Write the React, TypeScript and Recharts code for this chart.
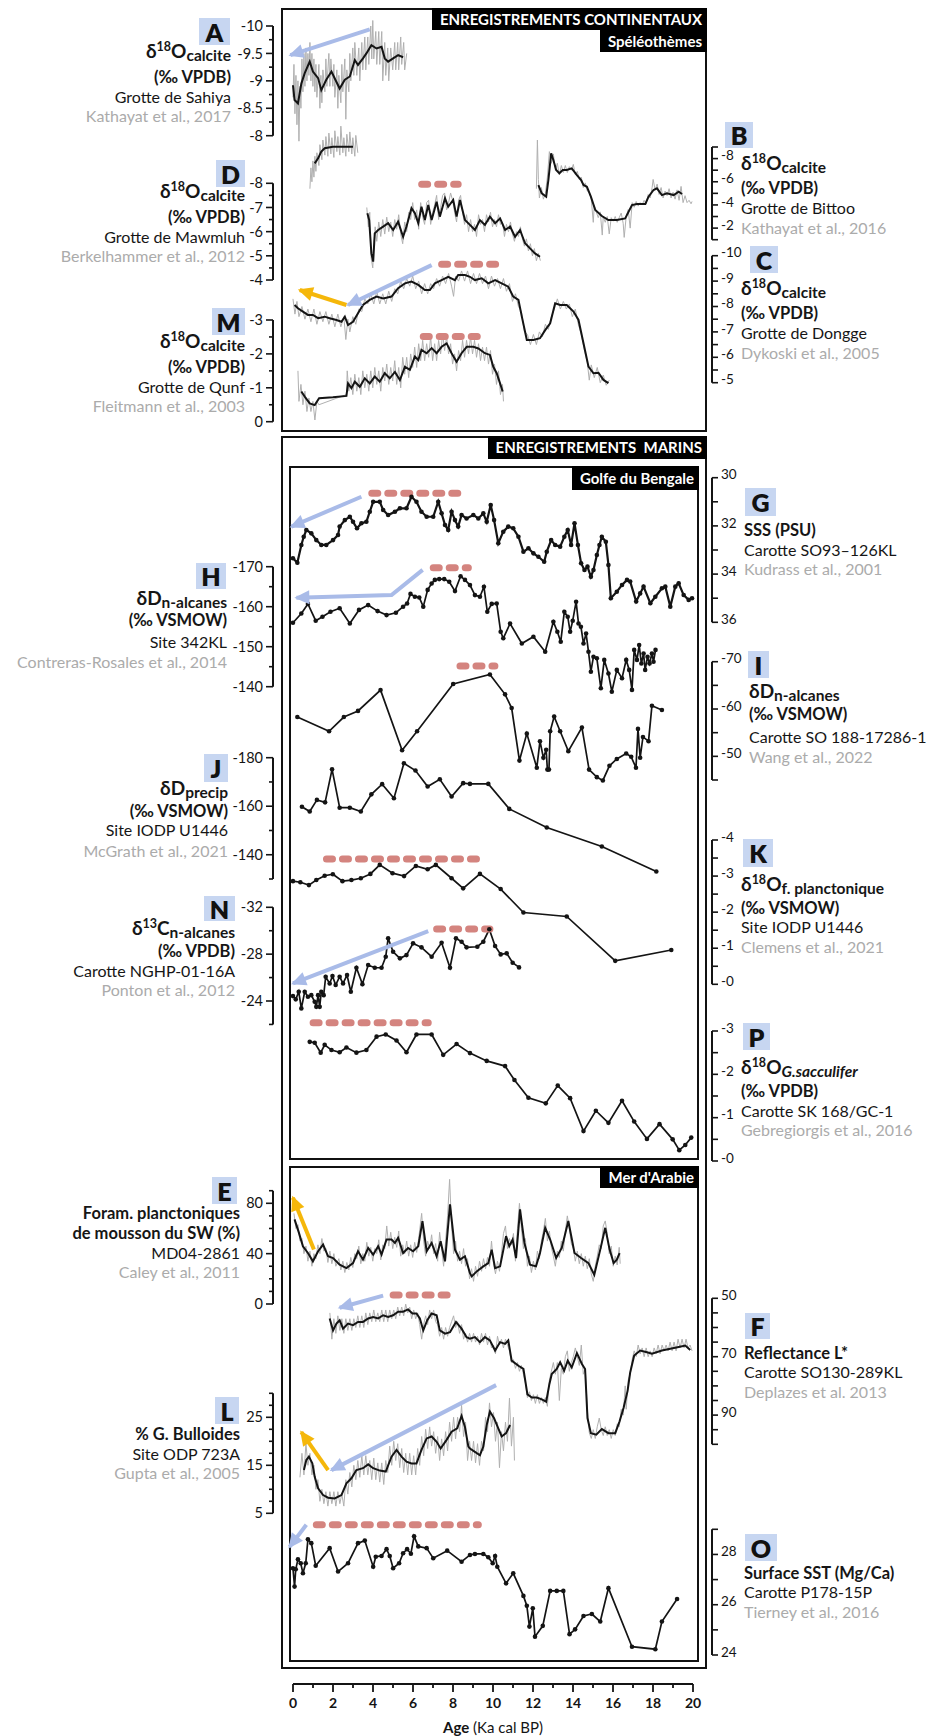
import React from "react";
import { LineChart, Line, XAxis, YAxis, ReferenceLine } from "recharts";

type Pt = [number, number];

// ---------- A : Sahiya cave d18O (‰ VPDB)
const sahiyaRaw: Pt[] = [[0,-8.7],[0.05,-9.3],[0.1,-8.4],[0.15,-9.1],[0.2,-8.2],[0.25,-9.0],[0.3,-7.9],[0.35,-8.9],[0.4,-8.5],[0.45,-9.4],[0.5,-8.8],[0.55,-9.5],[0.6,-8.9],[0.65,-9.6],[0.7,-9.0],[0.75,-9.5],[0.8,-9.1],[0.85,-9.7],[0.9,-9.0],[0.95,-9.5],[1.0,-8.9],[1.05,-9.4],[1.1,-8.8],[1.15,-9.3],[1.2,-8.7],[1.3,-9.3],[1.35,-8.5],[1.4,-9.1],[1.45,-8.6],[1.5,-9.2],[1.6,-8.8],[1.65,-9.4],[1.7,-8.9],[1.8,-9.5],[1.85,-8.9],[1.9,-9.4],[2.0,-8.9],[2.05,-9.3],[2.1,-8.7],[2.2,-9.2],[2.25,-8.5],[2.3,-9.1],[2.4,-8.6],[2.45,-9.3],[2.5,-8.8],[2.6,-9.4],[2.65,-8.3],[2.7,-9.2],[2.8,-8.8],[2.85,-9.5],[2.9,-9.0],[3.0,-9.6],[3.05,-9.1],[3.1,-9.7],[3.2,-9.1],[3.3,-9.6],[3.35,-9.0],[3.45,-9.7],[3.5,-9.2],[3.6,-9.8],[3.65,-9.2],[3.75,-9.8],[3.8,-9.3],[3.9,-10.0],[3.95,-9.4],[4.0,-10.1],[4.05,-9.4],[4.15,-9.9],[4.2,-9.3],[4.3,-9.9],[4.35,-9.3],[4.45,-9.9],[4.5,-9.0],[4.6,-9.7],[4.65,-9.1],[4.75,-9.6],[4.8,-9.0],[4.9,-9.6],[5.0,-9.2],[5.1,-9.7],[5.15,-9.2],[5.25,-9.7],[5.3,-9.2],[5.4,-9.8],[5.45,-9.3],[5.55,-9.7],[5.6,-9.2],[5.7,-9.5]];
const sahiyaSmooth: Pt[] = [[0,-8.92],[0.08,-8.65],[0.25,-8.59],[0.42,-8.95],[0.59,-9.14],[0.84,-9.35],[1.0,-9.17],[1.26,-9.05],[1.42,-8.83],[1.67,-9.02],[1.93,-9.17],[2.18,-8.98],[2.34,-8.86],[2.6,-9.02],[2.85,-9.08],[3.1,-9.38],[3.26,-9.29],[3.51,-9.41],[3.68,-9.5],[3.93,-9.65],[4.19,-9.59],[4.44,-9.62],[4.6,-9.41],[4.77,-9.35],[5.02,-9.41],[5.27,-9.47],[5.52,-9.43]];
const sahiyaArrow: Pt[] = [[3.85,-9.94],[-0.13,-9.47]];
const sahiyaTicks = [-10, -9.5, -9, -8.5, -8];

// ---------- B : Bittoo cave
const bittooRawEarly: Pt[] = [[0.85,-5.4],[0.9,-7.2],[0.95,-6.0],[1.0,-7.8],[1.05,-6.4],[1.1,-8.2],[1.15,-6.9],[1.2,-8.5],[1.3,-7.4],[1.35,-9.2],[1.45,-7.9],[1.5,-9.6],[1.6,-8.3],[1.65,-9.9],[1.75,-8.2],[1.8,-10.2],[1.9,-8.4],[1.95,-9.8],[2.05,-8.1],[2.1,-10.4],[2.2,-8.6],[2.25,-9.9],[2.35,-8.3],[2.4,-10.8],[2.5,-8.5],[2.55,-9.8],[2.65,-8.2],[2.7,-10.1],[2.8,-8.6],[2.85,-10.3],[2.95,-8.4],[3.0,-9.8],[3.1,-8.2],[3.15,-10.0],[3.25,-8.5]];
const bittooSmoothEarly: Pt[] = [[1.09,-7.59],[1.26,-8.02],[1.42,-8.6],[1.59,-8.89],[2.0,-9.03],[2.51,-9.03],[3.01,-9.03]];
const bittooRaw: Pt[] = [[12.2,-5.4],[12.25,-9.6],[12.3,-6.2],[12.35,-4.6],[12.45,-5.5],[12.55,-4.5],[12.65,-5.0],[12.75,-6.4],[12.85,-8.6],[12.95,-7.6],[13.05,-8.4],[13.15,-7.0],[13.25,-7.6],[13.35,-6.6],[13.45,-7.4],[13.55,-6.8],[13.65,-7.4],[13.75,-6.8],[13.85,-7.3],[13.95,-7.0],[14.05,-7.5],[14.15,-6.6],[14.25,-6.9],[14.35,-6.2],[14.45,-6.4],[14.55,-5.5],[14.65,-5.9],[14.75,-5.2],[14.85,-5.1],[14.95,-4.5],[15.05,-2.5],[15.1,-4.0],[15.2,-3.4],[15.3,-2.9],[15.4,-3.4],[15.5,-1.4],[15.55,-3.0],[15.65,-2.5],[15.75,-3.0],[15.85,-1.5],[15.95,-2.9],[16.05,-2.6],[16.15,-3.0],[16.25,-2.5],[16.35,-2.9],[16.45,-3.3],[16.55,-2.4],[16.6,-1.2],[16.7,-3.0],[16.8,-3.6],[16.9,-2.0],[17.0,-4.2],[17.1,-3.8],[17.2,-4.3],[17.3,-3.9],[17.4,-4.2],[17.5,-4.0],[17.6,-4.4],[17.7,-4.1],[17.8,-4.9],[17.9,-4.6],[18.0,-5.5],[18.05,-6.2],[18.15,-5.3],[18.25,-5.8],[18.35,-4.9],[18.45,-5.5],[18.55,-4.6],[18.65,-5.2],[18.75,-4.8],[18.85,-5.4],[18.95,-4.6],[19.05,-5.1],[19.15,-4.5],[19.25,-5.3],[19.35,-4.4],[19.45,-5.6],[19.55,-4.2],[19.65,-4.8],[19.75,-4.2],[19.85,-4.4],[19.95,-4.1],[20.0,-4.3]];
const bittooSmooth: Pt[] = [[12.3,-5.72],[12.47,-5.0],[12.69,-4.71],[12.8,-6.15],[12.94,-8.45],[13.05,-7.88],[13.19,-7.01],[13.35,-6.73],[13.52,-7.01],[13.72,-7.01],[13.97,-7.16],[14.23,-6.58],[14.44,-6.15],[14.56,-5.72],[14.73,-5.57],[14.93,-4.71],[15.15,-3.56],[15.48,-3.04],[15.81,-2.7],[16.23,-2.7],[16.65,-2.84],[16.99,-3.99],[17.24,-4.08],[17.66,-4.08],[17.82,-4.71],[18.07,-5.29],[18.24,-5.43],[18.49,-4.85],[18.74,-5.0],[19.08,-4.85],[19.33,-5.14],[19.5,-4.94]];
const bittooTicks = [-8, -6, -4, -2];

// ---------- C : Dongge cave
const donggeRaw: Pt[] = [[0.0,-8.3],[0.1,-7.7],[0.2,-8.2],[0.3,-7.6],[0.45,-8.0],[0.6,-7.5],[0.75,-7.9],[0.9,-7.4],[1.05,-7.9],[1.2,-7.3],[1.35,-7.8],[1.5,-7.4],[1.65,-7.8],[1.8,-7.3],[1.95,-7.7],[2.1,-7.2],[2.25,-7.7],[2.4,-7.2],[2.55,-7.6],[2.65,-6.7],[2.75,-7.5],[2.85,-7.0],[3.0,-7.6],[3.15,-7.3],[3.3,-7.9],[3.45,-7.8],[3.6,-8.3],[3.75,-8.1],[3.9,-8.5],[4.05,-8.1],[4.2,-8.6],[4.35,-8.1],[4.5,-8.5],[4.65,-8.1],[4.8,-8.6],[4.95,-8.2],[5.1,-8.7],[5.25,-8.5],[5.4,-9.0],[5.55,-8.7],[5.7,-9.1],[5.85,-8.8],[6.0,-9.2],[6.15,-8.7],[6.3,-9.0],[6.45,-8.5],[6.6,-8.9],[6.75,-8.5],[6.9,-8.9],[7.05,-8.7],[7.2,-9.1],[7.35,-8.8],[7.5,-9.2],[7.65,-8.9],[7.8,-9.3],[7.95,-8.8],[8.05,-8.4],[8.15,-9.2],[8.3,-9.0],[8.45,-9.4],[8.6,-9.0],[8.75,-9.4],[8.9,-8.9],[9.05,-9.3],[9.2,-8.9],[9.35,-9.3],[9.5,-8.9],[9.65,-9.2],[9.8,-8.7],[9.95,-9.2],[10.1,-8.8],[10.25,-9.1],[10.4,-8.7],[10.55,-9.1],[10.7,-8.6],[10.85,-8.9],[11.0,-8.2],[11.15,-8.5],[11.3,-8.0],[11.45,-7.8],[11.6,-7.0],[11.75,-6.9],[11.9,-6.5],[12.05,-6.9],[12.2,-6.5],[12.35,-7.0],[12.5,-6.8],[12.65,-7.3],[12.8,-7.1],[12.95,-7.6],[13.1,-7.9],[13.25,-8.3],[13.4,-7.9],[13.55,-8.2],[13.7,-7.9],[13.85,-8.1],[14.0,-7.6],[14.15,-7.9],[14.3,-7.3],[14.45,-6.9],[14.6,-6.3],[14.75,-5.8],[14.85,-5.1],[14.95,-5.7],[15.1,-5.2],[15.25,-5.6],[15.4,-5.0],[15.55,-5.3],[15.7,-4.9],[15.85,-5.1]];
const donggeSmooth: Pt[] = [[0.08,-8.06],[0.25,-7.93],[0.5,-7.8],[0.75,-7.67],[1.0,-7.67],[1.26,-7.54],[1.59,-7.6],[1.84,-7.54],[2.18,-7.47],[2.43,-7.4],[2.6,-7.6],[2.76,-7.27],[3.01,-7.4],[3.26,-7.73],[3.51,-8.06],[3.85,-8.26],[4.19,-8.39],[4.52,-8.32],[4.94,-8.39],[5.27,-8.72],[5.61,-8.91],[5.94,-8.98],[6.28,-8.85],[6.61,-8.65],[6.86,-8.65],[7.11,-8.91],[7.45,-9.04],[7.78,-9.17],[8.12,-9.04],[8.28,-9.24],[8.62,-9.24],[8.87,-9.17],[9.12,-9.04],[9.46,-9.11],[9.79,-8.91],[10.13,-9.04],[10.46,-8.91],[10.79,-8.78],[11.04,-8.39],[11.3,-8.26],[11.47,-7.6],[11.72,-6.68],[12.05,-6.68],[12.38,-6.75],[12.64,-7.07],[12.89,-7.34],[13.14,-8.13],[13.39,-8.06],[13.72,-8.06],[14.06,-7.8],[14.31,-7.47],[14.56,-6.55],[14.81,-5.63],[15.06,-5.37],[15.31,-5.39],[15.56,-5.11],[15.81,-4.98]];
const donggeOptimum: Pt[] = [[7.45,-9.66],[10.3,-9.66]];
const donggeArrowBlue: Pt[] = [[6.95,-9.63],[2.76,-8.06]];
const donggeArrowYellow: Pt[] = [[2.68,-8.06],[0.34,-8.65]];
const donggeTicks = [-10, -9, -8, -7, -6, -5];

// ---------- D : Mawmluh cave
const mawmluhRaw: Pt[] = [[3.7,-7.0],[3.78,-6.2],[3.85,-6.8],[3.92,-4.9],[4.0,-4.5],[4.05,-5.4],[4.12,-6.2],[4.2,-5.6],[4.3,-6.4],[4.4,-5.8],[4.5,-6.5],[4.6,-5.9],[4.7,-6.6],[4.8,-6.0],[4.9,-6.4],[5.0,-5.8],[5.1,-6.5],[5.2,-6.1],[5.3,-6.7],[5.4,-5.9],[5.5,-5.5],[5.6,-6.4],[5.7,-6.0],[5.8,-6.8],[5.9,-6.5],[6.0,-7.2],[6.1,-6.5],[6.2,-6.9],[6.3,-6.1],[6.4,-7.2],[6.5,-6.6],[6.6,-6.3],[6.7,-7.2],[6.8,-7.3],[6.9,-6.3],[7.0,-6.8],[7.1,-7.1],[7.2,-7.5],[7.3,-6.5],[7.4,-7.0],[7.5,-7.5],[7.6,-7.6],[7.7,-6.9],[7.8,-7.2],[7.9,-7.6],[8.0,-7.3],[8.1,-6.8],[8.2,-6.4],[8.3,-7.3],[8.4,-7.5],[8.5,-6.8],[8.6,-6.3],[8.7,-6.7],[8.8,-6.0],[8.9,-6.5],[9.0,-6.0],[9.1,-6.3],[9.2,-5.8],[9.3,-6.7],[9.4,-6.3],[9.5,-6.5],[9.6,-6.0],[9.7,-6.7],[9.8,-6.4],[9.9,-6.8],[10.0,-6.2],[10.1,-6.5],[10.2,-6.2],[10.3,-6.7],[10.4,-6.3],[10.5,-6.4],[10.6,-5.8],[10.7,-6.3],[10.8,-6.0],[10.9,-6.4],[11.0,-5.9],[11.1,-5.6],[11.2,-6.0],[11.3,-5.8],[11.4,-6.2],[11.5,-5.7],[11.6,-5.4],[11.7,-5.7],[11.8,-5.2],[11.9,-5.5],[12.0,-5.0],[12.1,-5.3],[12.2,-4.8],[12.3,-5.1],[12.4,-4.8]];
const mawmluhSmooth: Pt[] = [[3.73,-6.76],[3.82,-6.48],[3.93,-5.1],[4.02,-4.76],[4.1,-5.93],[4.27,-6.07],[4.52,-6.21],[4.77,-6.35],[5.02,-6.07],[5.27,-6.41],[5.52,-5.79],[5.69,-6.21],[5.94,-6.97],[6.11,-6.76],[6.28,-6.35],[6.44,-7.03],[6.61,-6.48],[6.78,-7.1],[6.95,-6.48],[7.2,-7.24],[7.36,-6.62],[7.62,-7.38],[7.78,-7.03],[8.03,-7.31],[8.2,-6.62],[8.37,-7.31],[8.62,-6.48],[8.87,-6.28],[9.12,-6.07],[9.37,-6.48],[9.62,-6.28],[9.87,-6.62],[10.13,-6.35],[10.38,-6.55],[10.63,-6.07],[10.88,-6.21],[11.13,-5.79],[11.38,-6.07],[11.63,-5.52],[11.88,-5.31],[12.13,-5.1],[12.38,-4.96]];
const mawmluhOptimum: Pt[] = [[6.45,-7.96],[8.28,-7.96]];
const mawmluhTicks = [-8, -7, -6, -5, -4];

// ---------- M : Qunf cave
const qunfRaw: Pt[] = [[0.25,-1.5],[0.3,-0.6],[0.4,-1.1],[0.5,-0.5],[0.6,-0.9],[0.7,-0.3],[0.8,-0.7],[0.9,-0.3],[1.0,-0.6],[1.1,-0.05],[1.2,-0.6],[1.3,-0.5],[2.68,-0.8],[2.72,-1.5],[2.8,-0.9],[2.9,-1.3],[3.0,-0.8],[3.1,-1.4],[3.2,-0.9],[3.3,-1.3],[3.4,-0.8],[3.5,-1.5],[3.6,-1.0],[3.7,-1.4],[3.8,-0.9],[3.9,-1.5],[4.0,-1.0],[4.1,-1.6],[4.2,-1.1],[4.3,-1.5],[4.4,-0.9],[4.5,-1.6],[4.6,-1.2],[4.7,-1.7],[4.8,-1.1],[4.9,-1.6],[5.0,-1.2],[5.1,-1.8],[5.2,-1.1],[5.3,-1.6],[5.4,-1.0],[5.5,-1.9],[5.6,-1.4],[5.7,-1.9],[5.8,-1.3],[5.9,-2.0],[6.0,-1.6],[6.1,-2.2],[6.2,-1.6],[6.3,-2.3],[6.4,-1.8],[6.5,-2.4],[6.6,-1.8],[6.7,-2.3],[6.8,-1.9],[6.9,-2.5],[7.0,-1.8],[7.1,-2.3],[7.2,-1.8],[7.3,-2.4],[7.4,-2.0],[7.5,-2.6],[7.6,-2.1],[7.7,-2.5],[7.8,-2.0],[7.9,-2.3],[8.0,-1.7],[8.1,-2.0],[8.2,-1.5],[8.3,-2.1],[8.4,-1.8],[8.5,-2.4],[8.6,-1.9],[8.7,-2.4],[8.8,-2.0],[8.9,-2.5],[9.0,-2.0],[9.1,-2.4],[9.2,-1.9],[9.3,-2.3],[9.4,-1.8],[9.5,-2.2],[9.6,-1.8],[9.7,-2.2],[9.8,-1.7],[9.9,-2.1],[10.0,-1.4],[10.1,-1.7],[10.2,-1.1],[10.3,-1.5],[10.4,-0.8],[10.5,-1.1],[10.55,-0.6]];
const qunfSmooth: Pt[] = [[0.42,-0.89],[0.59,-0.74],[0.84,-0.54],[1.09,-0.49],[1.31,-0.69],[2.0,-0.72],[2.68,-0.76],[2.76,-1.13],[2.93,-0.99],[3.1,-1.18],[3.35,-1.03],[3.6,-1.28],[3.85,-1.13],[4.1,-1.33],[4.35,-1.18],[4.6,-1.43],[4.85,-1.28],[5.11,-1.47],[5.36,-1.23],[5.61,-1.62],[5.86,-1.53],[6.11,-1.92],[6.28,-1.82],[6.44,-2.12],[6.7,-2.02],[6.95,-2.17],[7.2,-2.02],[7.45,-2.21],[7.7,-2.31],[7.95,-2.02],[8.2,-1.77],[8.45,-2.02],[8.71,-2.21],[9.04,-2.21],[9.29,-2.16],[9.62,-2.02],[9.87,-1.97],[10.04,-1.62],[10.21,-1.43],[10.38,-1.13],[10.51,-0.89]];
const qunfOptimum: Pt[] = [[6.53,-2.51],[9.29,-2.51]];
const qunfTicks = [-3, -2, -1, 0];

// ---------- G : SSS (PSU) SO93-126KL
const sss: Pt[] = [[0,33.34],[0.22,33.53],[0.42,32.79],[0.54,32.45],[0.67,32.17],[0.92,32.31],[1.17,32.59],[1.42,32.79],[1.67,32.79],[2.01,32.59],[2.26,32.38],[2.34,32.03],[2.6,31.76],[2.85,31.62],[3.01,31.83],[3.21,32.1],[3.43,31.89],[3.68,31.83],[3.85,31.41],[4.02,31.0],[4.35,31.0],[4.52,31.34],[4.77,31.55],[5.11,31.41],[5.36,31.27],[5.69,31.27],[5.94,30.79],[6.19,31.0],[6.44,31.41],[6.7,31.62],[7.03,31.62],[7.28,31.0],[7.45,31.48],[7.62,31.96],[7.78,32.17],[7.95,31.41],[8.12,31.76],[8.28,32.03],[8.45,31.55],[8.7,31.69],[9.04,31.55],[9.29,31.69],[9.54,31.48],[9.71,31.83],[9.91,31.13],[10.08,31.76],[10.29,32.72],[10.54,32.24],[10.79,32.03],[11.04,32.1],[11.3,32.45],[11.55,33.07],[11.8,32.93],[12.05,33.14],[12.3,33.28],[12.59,33.49],[12.72,33.07],[12.94,32.59],[13.14,32.79],[13.39,32.86],[13.6,32.45],[13.77,32.17],[13.94,32.79],[14.11,31.89],[14.28,32.79],[14.44,33.55],[14.61,33.83],[14.76,33.69],[14.93,34.11],[15.06,33.83],[15.23,33.21],[15.36,32.79],[15.48,32.45],[15.68,32.66],[15.81,33.62],[15.93,35.0],[16.23,34.73],[16.49,34.45],[16.74,34.24],[16.9,34.31],[17.2,35.14],[17.4,34.8],[17.57,34.52],[17.91,35.21],[18.16,34.94],[18.49,34.59],[18.66,34.52],[18.91,35.35],[19.16,34.52],[19.33,34.38],[19.58,34.87],[19.83,35.07],[20.0,35.0]];
const sssOptimum: Pt[] = [[3.95,30.65],[8.28,30.65]];
const sssArrow: Pt[] = [[3.43,30.79],[-0.08,32.03]];
const sssTicks = [30, 32, 34, 36];

// ---------- H : dD n-alkanes 342KL
const dD342: Pt[] = [[0,-156.0],[0.42,-158.3],[0.75,-160.7],[1.14,-156.5],[1.48,-157.5],[1.88,-158.75],[2.34,-159.6],[2.85,-155.8],[3.31,-159.2],[3.77,-160.4],[4.24,-158.9],[4.69,-157.9],[5.16,-158.5],[5.52,-160],[5.72,-160.8],[5.89,-163.2],[6.11,-162.5],[6.33,-162.3],[6.53,-160],[6.75,-164.2],[6.95,-165.8],[7.11,-166.7],[7.33,-166.9],[7.58,-166.9],[7.83,-166.25],[8.12,-163.9],[8.4,-167.6],[8.62,-166.7],[8.87,-165.4],[9.12,-162.9],[9.37,-162.5],[9.57,-165],[9.74,-158.75],[9.96,-160.7],[10.21,-160.8],[10.41,-153.75],[10.54,-152.1],[10.88,-155.8],[11.47,-150.8],[12.05,-152.5],[12.64,-148.75],[13.05,-156.25],[13.25,-153.75],[13.42,-151.25],[13.6,-158.75],[13.77,-157.5],[13.89,-153.75],[14.02,-156.5],[14.19,-161.25],[14.31,-155.8],[14.43,-155],[14.56,-150.8],[14.69,-153.3],[14.81,-148.75],[14.93,-143.75],[15.06,-147.5],[15.23,-147.1],[15.43,-139.6],[15.6,-146.7],[15.81,-143.3],[15.98,-138.75],[16.23,-144.2],[16.49,-142.1],[16.7,-146.7],[16.85,-144.2],[16.99,-139.2],[17.1,-149.2],[17.24,-146.7],[17.35,-150.4],[17.46,-145.8],[17.57,-148.3],[17.65,-144.2],[17.77,-147.5],[17.87,-145.8],[17.99,-148.3],[18.07,-146.25],[18.17,-149.2]];
const dD342Optimum: Pt[] = [[7.03,-169.75],[8.79,-169.75]];
const dD342Arrow: Pt[] = [[6.5,-169.2],[4.94,-162.9],[0.17,-162.25]];
const dD342Ticks = [-170, -160, -150, -140];

// ---------- I : dD n-alkanes SO188-17286-1
const dD17286: Pt[] = [[0.22,-58.3],[1.81,-55.3],[2.55,-58.3],[3.26,-59.6],[4.39,-64.0],[5.47,-51.3],[6.22,-55.3],[8.03,-65.3],[9.87,-67.3],[10.63,-63.1],[10.96,-60.2],[11.35,-49.1],[11.72,-54.8],[12.22,-47.6],[12.38,-53.2],[12.55,-49.7],[12.69,-51.4],[12.75,-47.2],[12.83,-47.2],[12.89,-55.3],[13.09,-58.4],[13.39,-55.3],[13.8,-51.1],[14.48,-56.1],[14.84,-47.2],[15.23,-45.6],[15.53,-44.9],[15.86,-48.0],[16.23,-49.45],[16.7,-50.6],[16.95,-49.9],[17.19,-47.6],[17.29,-55.8],[17.4,-49.7],[17.54,-54.1],[17.82,-53.2],[17.99,-60.7],[18.49,-59.8]];
const dD17286Optimum: Pt[] = [[8.37,-69.1],[10.12,-69.1]];
const dD17286Ticks = [-70, -60, -50];

// ---------- J : dD precip U1446
const dDprecip: Pt[] = [[0.45,-159.8],[0.84,-157.8],[1.2,-162.6],[1.61,-161.6],[1.96,-175.2],[2.34,-159.4],[2.85,-159.4],[3.4,-157.8],[3.93,-164.9],[4.47,-169.1],[5.06,-163.3],[5.56,-177.7],[6.14,-174.7],[6.75,-168.1],[7.36,-171.1],[7.95,-164],[8.53,-169.5],[8.87,-169.2],[9.79,-169.2],[10.84,-158.9],[12.72,-151.2],[15.48,-143.4],[18.21,-133.1]];
const dDprecipTicks = [-180, -160, -140];

// ---------- K : d18O planktonic U1446
const d18Oplank: Pt[] = [[0,-2.86],[0.37,-2.83],[0.8,-2.75],[1.17,-2.89],[1.59,-3.01],[2.0,-3.05],[2.48,-2.86],[2.93,-2.89],[3.4,-2.94],[3.88,-3.06],[4.35,-3.31],[4.99,-3.08],[5.57,-3.0],[6.16,-3.28],[6.75,-3.19],[7.16,-3.31],[7.95,-2.94],[8.53,-2.66],[9.37,-3.06],[10.41,-2.64],[11.55,-1.99],[13.72,-1.88],[16.15,-0.65],[18.96,-0.95]];
const d18OplankOptimum: Pt[] = [[1.68,-3.47],[9.2,-3.47]];
const d18OplankTicks = [-4, -3, -2, -1, 0];

// ---------- N : d13C n-alkanes NGHP-01-16A
const d13C: Pt[] = [[0,-24.42],[0.14,-24.14],[0.29,-24.79],[0.42,-23.37],[0.59,-24.79],[0.75,-24.36],[0.92,-24.5],[1.09,-23.93],[1.17,-23.5],[1.26,-24.5],[1.34,-23.5],[1.42,-24.79],[1.54,-24.5],[1.64,-26.07],[1.84,-25.5],[1.98,-26.13],[2.14,-25.36],[2.34,-26.07],[2.51,-25.5],[2.71,-26.21],[2.9,-24.79],[3.18,-26.84],[3.48,-25.44],[3.77,-27.07],[4.1,-26.84],[4.44,-26.84],[4.65,-27.78],[4.77,-29.35],[5.02,-28.2],[5.36,-27.64],[5.69,-27.92],[6.02,-28.92],[6.44,-28.58],[6.95,-27.78],[7.45,-28.97],[7.87,-26.84],[8.17,-29.35],[8.45,-29.06],[8.7,-28.58],[9.24,-28.63],[9.54,-29.06],[9.84,-30.12],[10.13,-28.69],[10.41,-27.98],[10.71,-28.07],[11.01,-27.27],[11.33,-26.87]];
const d13COptimum: Pt[] = [[7.2,-30.15],[9.87,-30.15]];
const d13CArrow: Pt[] = [[6.78,-29.97],[0.0,-25.5]];
const d13CTicks = [-32, -28, -24];

// ---------- P : d18O G. sacculifer SK 168/GC-1
const d18Osacc: Pt[] = [[0.84,-2.75],[1.09,-2.73],[1.39,-2.5],[1.59,-2.68],[1.93,-2.56],[2.34,-2.51],[2.68,-2.62],[3.18,-2.5],[3.68,-2.56],[4.19,-2.87],[4.65,-2.92],[5.19,-2.78],[5.69,-2.51],[6.19,-2.92],[6.95,-2.92],[7.53,-2.45],[8.2,-2.7],[8.87,-2.49],[9.71,-2.31],[10.63,-2.19],[11.1,-1.87],[11.8,-1.46],[12.67,-1.33],[13.27,-1.74],[13.89,-1.45],[14.56,-0.69],[15.18,-1.16],[15.81,-0.88],[16.49,-1.39],[17.1,-0.91],[17.74,-0.51],[18.37,-0.85],[19.03,-0.5],[19.36,-0.25],[19.66,-0.37],[19.96,-0.54]];
const d18OsaccOptimum: Pt[] = [[1.01,-3.19],[6.78,-3.19]];
const d18OsaccTicks = [-3, -2, -1, 0];

// ---------- E : SW monsoon planktonic foraminifera (%) MD04-2861
const foramRaw: Pt[] = [[0.05,72],[0.15,60],[0.25,63],[0.35,50],[0.45,52],[0.55,40],[0.65,46],[0.75,34],[0.85,42],[0.95,30],[1.05,40],[1.15,36],[1.25,47],[1.35,40],[1.45,52],[1.55,42],[1.65,44],[1.75,33],[1.85,42],[1.95,32],[2.05,40],[2.15,30],[2.3,36],[2.4,27],[2.5,34],[2.6,25],[2.7,33],[2.8,27],[2.9,37],[3.0,29],[3.1,40],[3.2,36],[3.3,46],[3.4,32],[3.5,40],[3.6,34],[3.7,49],[3.8,38],[3.9,45],[4.0,34],[4.1,44],[4.2,40],[4.3,51],[4.4,35],[4.5,47],[4.6,44],[4.7,62],[4.8,46],[4.9,57],[5.0,44],[5.1,53],[5.2,45],[5.3,58],[5.4,38],[5.5,47],[5.6,40],[5.7,50],[5.8,38],[5.9,47],[6.0,37],[6.1,49],[6.2,41],[6.3,52],[6.45,72],[6.55,50],[6.65,38],[6.75,50],[6.85,44],[6.95,55],[7.05,40],[7.15,48],[7.25,34],[7.35,57],[7.45,44],[7.55,30],[7.65,50],[7.75,70],[7.85,99],[7.95,62],[8.05,40],[8.15,50],[8.25,34],[8.35,42],[8.45,32],[8.55,44],[8.65,30],[8.75,36],[8.85,20],[8.95,28],[9.05,18],[9.15,30],[9.25,22],[9.35,34],[9.45,26],[9.55,36],[9.65,28],[9.75,37],[9.85,30],[9.95,50],[10.05,32],[10.15,24],[10.25,34],[10.35,26],[10.45,40],[10.55,56],[10.65,62],[10.75,44],[10.85,52],[10.95,47],[11.05,56],[11.15,34],[11.25,60],[11.35,80],[11.45,60],[11.55,44],[11.65,52],[11.75,30],[11.85,38],[11.95,25],[12.05,34],[12.15,27],[12.25,42],[12.35,36],[12.45,50],[12.55,58],[12.65,68],[12.75,50],[12.85,58],[12.95,45],[13.05,38],[13.15,30],[13.25,42],[13.35,37],[13.45,50],[13.55,42],[13.65,58],[13.75,70],[13.85,60],[13.95,48],[14.05,44],[14.15,34],[14.25,42],[14.35,32],[14.45,40],[14.55,30],[14.65,38],[14.75,28],[14.85,36],[14.95,24],[15.05,18],[15.15,30],[15.25,38],[15.35,47],[15.45,44],[15.55,62],[15.65,66],[15.75,56],[15.85,40],[15.95,46],[16.05,30],[16.15,38],[16.25,31],[16.35,45],[16.4,32]];
const foramSmooth: Pt[] = [[0.08,67.2],[0.3,56.5],[0.5,45.9],[0.75,40.5],[1.0,33.9],[1.26,41.9],[1.51,47.2],[1.76,37.9],[2.01,36.5],[2.34,31.2],[2.68,28.5],[3.01,32.5],[3.26,41.9],[3.51,35.2],[3.77,44.5],[4.02,39.2],[4.27,45.9],[4.44,39.2],[4.69,51.2],[4.94,51.2],[5.11,48.5],[5.27,52.5],[5.52,40.5],[5.77,44.5],[6.02,41.9],[6.28,45.9],[6.49,65.9],[6.7,41.9],[6.95,48.5],[7.2,37.9],[7.4,49.9],[7.62,33.9],[7.87,79.2],[8.12,43.2],[8.37,35.2],[8.62,37.9],[8.87,24.5],[8.96,21.9],[9.21,25.9],[9.54,29.9],[9.79,32.5],[9.96,43.2],[10.13,28.5],[10.38,29.9],[10.68,53.9],[10.84,45.9],[11.01,51.2],[11.18,36.5],[11.38,75.2],[11.6,48.5],[11.88,31.2],[12.18,29.9],[12.38,40.5],[12.64,60.5],[12.89,51.2],[13.19,36.5],[13.47,44.5],[13.8,65.9],[14.11,40.5],[14.44,36.5],[14.81,32.5],[15.1,23.2],[15.4,43.2],[15.65,60.5],[15.87,43.2],[16.07,32.5],[16.23,35.2],[16.37,40.5]];
const foramArrow: Pt[] = [[1.05,43.2],[0.0,84.5]];
const foramTicks = [0, 40, 80];

// ---------- F : Reflectance L* SO130-289KL
const reflRaw: Pt[] = [[1.85,55],[1.95,64],[2.05,57],[2.15,62],[2.25,56],[2.35,61],[2.45,57],[2.55,62],[2.65,57],[2.75,61],[2.85,57],[2.95,61],[3.05,57],[3.15,60],[3.25,56],[3.35,60],[3.45,56],[3.55,60],[3.65,55],[3.75,59],[3.85,55],[3.95,58],[4.05,54],[4.15,58],[4.25,55],[4.35,58],[4.45,54],[4.55,58],[4.65,54],[4.75,58],[4.85,54],[4.95,57],[5.05,54],[5.15,57],[5.25,53],[5.35,56],[5.45,53],[5.55,56],[5.65,52],[5.75,55],[5.85,53],[5.95,57],[6.05,54],[6.15,57],[6.25,55],[6.35,59],[6.45,64],[6.55,59],[6.65,56],[6.75,59],[6.85,54],[6.95,57],[7.05,54],[7.15,58],[7.25,59],[7.35,63],[7.45,60],[7.55,64],[7.65,60],[7.75,63],[7.85,60],[7.95,58],[8.05,56],[8.15,60],[8.25,58],[8.35,62],[8.45,59],[8.55,64],[8.65,62],[8.75,65],[8.85,62],[8.95,65],[9.05,62],[9.15,65],[9.25,63],[9.35,66],[9.45,62],[9.55,65],[9.65,62],[9.75,66],[9.85,63],[9.95,67],[10.05,66],[10.15,69],[10.25,63],[10.35,66],[10.45,64],[10.55,67],[10.65,64],[10.75,66],[10.85,68],[10.95,72],[11.05,71],[11.15,74],[11.25,72],[11.35,75],[11.45,73],[11.55,76],[11.65,79],[11.75,84],[11.85,82],[11.95,85],[12.05,83],[12.15,86],[12.25,83],[12.35,86],[12.45,84],[12.55,86],[12.65,84],[12.75,87],[12.85,78],[12.95,75],[13.05,72],[13.15,76],[13.25,72],[13.35,85],[13.45,74],[13.55,76],[13.65,70],[13.75,68],[13.85,75],[13.95,72],[14.05,70],[14.15,67],[14.25,70],[14.35,73],[14.45,66],[14.55,76],[14.65,74],[14.75,88],[14.85,96],[14.95,98],[15.05,95],[15.15,98],[15.25,94],[15.35,91],[15.45,95],[15.55,97],[15.65,94],[15.75,97],[15.85,95],[15.95,98],[16.05,95],[16.15,97],[16.25,93],[16.35,94],[16.45,88],[16.55,90],[16.65,80],[16.7,88],[16.8,78],[16.9,76],[17.0,71],[17.1,68],[17.2,70],[17.3,66],[17.4,69],[17.5,67],[17.6,70],[17.7,67],[17.8,70],[17.9,68],[18.0,70],[18.1,67],[18.2,69],[18.3,66],[18.4,69],[18.5,66],[18.6,68],[18.7,66],[18.8,68],[18.9,65],[19.0,68],[19.1,65],[19.2,68],[19.3,64],[19.4,67],[19.5,64],[19.6,67],[19.7,64],[19.8,67],[19.9,66],[20.0,68]];
const reflSmooth: Pt[] = [[1.84,56.9],[2.01,61.0],[2.18,58.65],[2.34,57.5],[2.51,60.4],[2.76,58.65],[3.01,59.2],[3.26,58.1],[3.51,58.1],[3.77,56.9],[4.02,56.4],[4.27,56.9],[4.52,55.8],[4.77,56.4],[5.02,55.8],[5.27,54.6],[5.52,54.6],[5.77,53.8],[5.99,55.2],[6.19,55.2],[6.36,56.9],[6.53,61.0],[6.73,57.5],[6.95,55.2],[7.2,55.8],[7.36,61.0],[7.62,62.1],[7.87,61.6],[8.17,58.1],[8.45,60.4],[8.7,63.3],[8.87,63.8],[9.12,63.3],[9.37,65.0],[9.62,63.3],[9.87,64.4],[10.13,67.9],[10.38,65.0],[10.63,65.6],[10.79,64.4],[10.96,71.35],[11.3,73.1],[11.55,74.2],[11.75,82.9],[11.97,84.0],[12.22,84.0],[12.47,84.6],[12.69,85.4],[12.85,79.4],[12.97,75.95],[13.22,74.2],[13.39,71.9],[13.59,74.8],[13.77,71.35],[13.97,73.7],[14.23,68.8],[14.48,72.5],[14.64,74.2],[14.76,91.0],[14.93,96.2],[15.2,96.7],[15.48,94.8],[15.81,96.2],[16.15,96.2],[16.37,92.1],[16.57,87.5],[16.77,81.7],[16.9,75.4],[17.1,69.6],[17.4,67.9],[17.74,68.5],[17.99,69.0],[18.49,67.9],[18.91,67.3],[19.33,66.7],[19.66,66.2],[19.91,67.7]];
const reflOptimum: Pt[] = [[5.02,48.9],[7.83,48.9]];
const reflArrow: Pt[] = [[4.52,49.1],[2.34,53.25]];
const reflTicks = [50, 70, 90];

// ---------- L : % G. bulloides ODP 723A
const bullRaw: Pt[] = [[0.35,12.5],[0.45,17.5],[0.55,13],[0.65,19.5],[0.75,15],[0.85,17.5],[0.95,13],[1.05,15],[1.15,10],[1.25,12],[1.35,7.5],[1.45,10],[1.55,7],[1.65,9.5],[1.75,6.5],[1.85,9.5],[1.95,7],[2.05,9.5],[2.15,6.5],[2.25,9.5],[2.35,7],[2.45,9],[2.55,6.5],[2.65,12],[2.75,9],[2.85,13.5],[2.95,10.5],[3.05,15],[3.15,12],[3.25,16],[3.35,12.5],[3.45,17],[3.55,13],[3.65,17],[3.75,13],[3.85,16],[3.95,12],[4.05,16.5],[4.15,12],[4.25,15.5],[4.35,11.5],[4.45,15.5],[4.55,11],[4.65,16],[4.75,13.5],[4.85,19],[4.95,15],[5.05,20],[5.15,16],[5.25,19.5],[5.35,14.5],[5.45,18.5],[5.55,13.5],[5.65,17.5],[5.75,13],[5.85,17.5],[5.95,13],[6.05,17],[6.15,13],[6.25,18.5],[6.35,15],[6.45,21],[6.55,17],[6.65,22.5],[6.75,18.5],[6.85,23],[6.95,19],[7.05,22],[7.15,17.5],[7.25,21],[7.35,16],[7.45,20.5],[7.55,17],[7.65,22],[7.75,18],[7.85,24],[7.95,20],[8.05,25],[8.15,20.5],[8.25,25],[8.35,22],[8.45,27.5],[8.55,21],[8.65,24],[8.75,16],[8.85,20],[8.95,16],[9.05,20],[9.15,15.5],[9.25,19.5],[9.35,15],[9.45,20],[9.55,18],[9.65,25],[9.75,22],[9.85,28],[9.95,23],[10.05,26],[10.15,20],[10.25,24],[10.35,14.5],[10.45,22],[10.55,18],[10.65,24],[10.75,20],[10.85,29],[10.95,19],[11.05,25],[11.1,16]];
const bullSmooth: Pt[] = [[0.55,14.0],[0.67,16.1],[0.8,16.8],[0.97,15.4],[1.09,12.6],[1.26,10.2],[1.51,8.8],[1.76,8.25],[2.09,8.1],[2.43,8.8],[2.68,11.25],[2.93,12.3],[3.18,14.0],[3.51,14.4],[3.77,15.2],[4.02,14.4],[4.35,13.9],[4.65,13.7],[4.94,16.8],[5.19,18.2],[5.44,16.8],[5.69,15.75],[5.94,15.4],[6.19,15.4],[6.44,18.2],[6.7,20.6],[6.95,21.0],[7.2,19.9],[7.4,18.5],[7.7,20.3],[7.95,22.0],[8.23,22.7],[8.45,25.3],[8.62,23.0],[8.79,18.9],[8.87,18.5],[9.12,17.8],[9.37,17.1],[9.54,18.9],[9.71,23.4],[9.87,26.2],[10.08,24.8],[10.29,22.7],[10.46,21.0],[10.68,21.7],[10.88,23.4]];
const bullArrowYellow: Pt[] = [[1.76,14.0],[0.42,21.9]];
const bullArrowBlue: Pt[] = [[10.18,31.7],[1.93,14.0]];
const bullTicks = [5, 15, 25];

// ---------- O : SST Mg/Ca P178-15P
const sst: Pt[] = [[0,27.45],[0.08,26.72],[0.14,27.41],[0.25,27.81],[0.39,27.65],[0.5,27.25],[0.64,27.65],[0.75,28.6],[0.92,28.45],[1.14,27.55],[1.84,28.25],[2.26,27.32],[2.76,27.65],[3.26,28.45],[3.6,28.55],[4.02,27.51],[4.15,27.91],[4.44,27.94],[4.69,28.21],[4.85,27.94],[5.02,27.45],[5.32,27.65],[5.52,28.05],[5.72,28.21],[5.91,28.03],[6.07,28.72],[6.28,28.32],[6.7,28.25],[7.03,27.85],[7.73,28.15],[8.45,27.71],[8.87,27.98],[9.12,28.02],[9.54,28.02],[9.79,27.89],[10.01,27.65],[10.13,27.94],[10.24,27.51],[10.68,26.85],[11.04,27.25],[11.55,26.35],[11.72,25.96],[11.85,25.13],[12.02,25.86],[12.13,24.73],[12.52,25.16],[12.89,26.55],[13.22,26.55],[13.55,26.55],[13.86,24.83],[14.14,25.02],[14.56,25.55],[14.98,25.63],[15.4,25.33],[15.81,26.66],[16.99,24.33],[18.16,24.23],[18.49,25.33],[19.25,26.23]];
const sstOptimum: Pt[] = [[1.17,29.18],[9.29,29.18]];
const sstArrow: Pt[] = [[0.67,29.18],[-0.17,28.3]];
const sstTicks = [24, 26, 28];

const ageTicks = [0,1,2,3,4,5,6,7,8,9,10,11,12,13,14,15,16,17,18,19,20];

// ---------- layout ----------
const W = 939;
const H = 1736;
const PLOT_L = 273; // left axes
const PLOT_R = 712; // right axes
const FONT = "Lato, 'Open Sans', sans-serif";
const BLUE = "#a9bbe8";
const YELLOW = "#f5b70a";
const SALMON = "#d4847f";
const GRAY = "#b0b0b0";
const INK = "#141414";

type Side = "left" | "right";
interface AxisCfg { id: string; side: Side; v1: number; p1: number; v2: number; p2: number; lo: number; hi: number; step: number; majors: number[]; neg0?: boolean }

const axes: AxisCfg[] = [
  { id: "A", side: "left", v1: -10, p1: 26, v2: -8, p2: 135.7, lo: -10, hi: -8, step: 0.25, majors: sahiyaTicks },
  { id: "B", side: "right", v1: -9, p1: 147, v2: -1, p2: 239.7, lo: -9, hi: -1, step: 1, majors: bittooTicks },
  { id: "D", side: "left", v1: -8, p1: 183.3, v2: -4, p2: 280, lo: -8, hi: -4, step: 0.5, majors: mawmluhTicks },
  { id: "C", side: "right", v1: -10, p1: 255.7, v2: -5, p2: 382.7, lo: -10, hi: -5, step: 0.5, majors: donggeTicks },
  { id: "M", side: "left", v1: -3, p1: 320, v2: 0, p2: 421.7, lo: -3, hi: 0, step: 0.5, majors: qunfTicks },
  { id: "G", side: "right", v1: 30, p1: 477.7, v2: 36, p2: 622.3, lo: 30, hi: 36, step: 1, majors: sssTicks },
  { id: "H", side: "left", v1: -170, p1: 566.7, v2: -140, p2: 686.7, lo: -170, hi: -140, step: 5, majors: dD342Ticks },
  { id: "I", side: "right", v1: -70, p1: 661.7, v2: -45, p2: 780, lo: -70, hi: -45, step: 5, majors: dD17286Ticks },
  { id: "J", side: "left", v1: -180, p1: 757.7, v2: -130, p2: 879, lo: -180, hi: -130, step: 10, majors: dDprecipTicks },
  { id: "K", side: "right", v1: -4, p1: 840, v2: 0, p2: 984.3, lo: -4, hi: 0, step: 0.5, majors: d18OplankTicks, neg0: true },
  { id: "N", side: "left", v1: -32, p1: 907.3, v2: -24, p2: 1001, lo: -32, hi: -22, step: 2, majors: d13CTicks },
  { id: "P", side: "right", v1: -3, p1: 1031, v2: 0, p2: 1161, lo: -3, hi: 0, step: 0.5, majors: d18OsaccTicks, neg0: true },
  { id: "E", side: "left", v1: 0, p1: 1304, v2: 80, p2: 1203.3, lo: 0, hi: 90, step: 10, majors: foramTicks },
  { id: "F", side: "right", v1: 50, p1: 1298.3, v2: 100, p2: 1444.3, lo: 50, hi: 100, step: 5, majors: reflTicks },
  { id: "L", side: "left", v1: 5, p1: 1513.3, v2: 30, p2: 1393.3, lo: 5, hi: 30, step: 2.5, majors: bullTicks },
  { id: "O", side: "right", v1: 24, p1: 1655, v2: 29, p2: 1529.3, lo: 24, hi: 29, step: 1, majors: sstTicks },
];
const nLeft = axes.filter((a) => a.side === "left").length;
const nRight = axes.length - nLeft;

function scaleOf(a: AxisCfg) {
  const s = (a.v2 - a.v1) / (a.p2 - a.p1);
  const top = a.v1 - a.p1 * s;
  const bottom = a.v1 + (H - a.p1) * s;
  return top < bottom
    ? { domain: [top, bottom] as [number, number], reversed: true }
    : { domain: [bottom, top] as [number, number], reversed: false };
}

function tickList(a: AxisCfg) {
  const out: number[] = [];
  const n = Math.round((a.hi - a.lo) / a.step);
  for (let i = 0; i <= n; i++) out.push(+(a.lo + i * a.step).toFixed(4));
  return out;
}

const makeTick = (a: AxisCfg) => (props: any) => {
  const { y, payload } = props;
  const v = payload.value as number;
  const major = a.majors.some((m) => Math.abs(m - v) < 1e-6);
  const left = a.side === "left";
  const x = left ? PLOT_L : PLOT_R;
  const len = left ? (major ? 7 : 4) : 6;
  const label = a.neg0 && v === 0 ? "-0" : String(v);
  return (
    <g>
      <line x1={x} y1={y} x2={x + (left ? -len : len)} y2={y} stroke={INK} strokeWidth={1.6} />
      {major && (
        <text x={left ? x - 10 : x + 9} y={left ? y : y - 3} dy="0.35em" textAnchor={left ? "end" : "start"} fontSize={left ? 14.5 : 13.5} fill={INK} fontFamily={FONT}>
          {label}
        </text>
      )}
    </g>
  );
};

const xy = (pts: Pt[]) => pts.map(([x, y]) => ({ x, y }));

const arrowHead = (color: string) => (p: any) => {
  const { cx, cy, index, points } = p;
  if (!points || index !== points.length - 1 || index < 1) return <g key={p.key} />;
  const prev = points[index - 1];
  const ang = Math.atan2(cy - prev.y, cx - prev.x);
  const L = 13;
  const Wd = 7;
  const bx = cx - L * Math.cos(ang);
  const by = cy - L * Math.sin(ang);
  const tri = [
    [cx + 2 * Math.cos(ang), cy + 2 * Math.sin(ang)],
    [bx - Wd * Math.sin(ang), by + Wd * Math.cos(ang)],
    [bx + Wd * Math.sin(ang), by - Wd * Math.cos(ang)],
  ];
  return <polygon key={p.key} points={tri.map((q) => q.join(",")).join(" ")} fill={color} />;
};

const raw = (id: string, key: string, pts: Pt[]) => (
  <Line key={key} yAxisId={id} data={xy(pts)} dataKey="y" stroke={GRAY} strokeWidth={1} dot={false} isAnimationActive={false} />
);
const smooth = (id: string, key: string, pts: Pt[]) => (
  <Line key={key} yAxisId={id} data={xy(pts)} dataKey="y" stroke={INK} strokeWidth={2} dot={false} isAnimationActive={false} />
);
const dotted = (id: string, key: string, pts: Pt[], w = 1.7) => (
  <Line key={key} yAxisId={id} data={xy(pts)} dataKey="y" stroke={INK} strokeWidth={w} dot={{ r: 2.3, fill: INK, stroke: INK, strokeWidth: 0 }} isAnimationActive={false} />
);
const optimum = (id: string, key: string, pts: Pt[]) => (
  <Line key={key} yAxisId={id} data={xy(pts)} dataKey="y" stroke={SALMON} strokeWidth={7} strokeLinecap="round" strokeDasharray="6 10" dot={false} isAnimationActive={false} />
);
const arrow = (id: string, key: string, pts: Pt[], color: string) => (
  <Line key={key} yAxisId={id} data={xy(pts)} dataKey="y" stroke={color} strokeWidth={4} dot={arrowHead(color)} isAnimationActive={false} />
);

// ---------- text blocks ----------
const Iso = ({ iso, el, sub, italic }: { iso?: string; el: string; sub: string; italic?: boolean }) => (
  <span style={{ fontSize: 19, fontWeight: 700 }}>
    δ
    {iso && <span style={{ fontSize: 12.5, position: "relative", top: -7 }}>{iso}</span>}
    {el}
    <span style={{ fontSize: 15.5, position: "relative", top: 3, fontStyle: italic ? "italic" : "normal" }}>{sub}</span>
  </span>
);

interface TextLine { y: number; node: React.ReactNode; kind?: "title" | "bold" | "ref" }
interface BlockCfg { letter: string; side: Side; x: number; box: [number, number, number, number]; lines: TextLine[] }

const blocks: BlockCfg[] = [
  { letter: "A", side: "left", x: 231, box: [199, 18, 31, 27], lines: [
    { y: 53, node: <Iso iso="18" el="O" sub="calcite" />, kind: "title" }, { y: 77, node: "(‰ VPDB)", kind: "bold" }, { y: 97, node: "Grotte de Sahiya" }, { y: 116, node: "Kathayat et al., 2017", kind: "ref" } ] },
  { letter: "D", side: "left", x: 245, box: [216, 160, 29, 27], lines: [
    { y: 193, node: <Iso iso="18" el="O" sub="calcite" />, kind: "title" }, { y: 217, node: "(‰ VPDB)", kind: "bold" }, { y: 237, node: "Grotte de Mawmluh" }, { y: 256, node: "Berkelhammer et al., 2012", kind: "ref" } ] },
  { letter: "M", side: "left", x: 245, box: [212, 308, 33, 27], lines: [
    { y: 343, node: <Iso iso="18" el="O" sub="calcite" />, kind: "title" }, { y: 367, node: "(‰ VPDB)", kind: "bold" }, { y: 387, node: "Grotte de Qunf" }, { y: 406, node: "Fleitmann et al., 2003", kind: "ref" } ] },
  { letter: "B", side: "right", x: 741, box: [725, 122, 28, 26], lines: [
    { y: 165, node: <Iso iso="18" el="O" sub="calcite" />, kind: "title" }, { y: 188, node: "(‰ VPDB)", kind: "bold" }, { y: 208, node: "Grotte de Bittoo" }, { y: 228, node: "Kathayat et al., 2016", kind: "ref" } ] },
  { letter: "C", side: "right", x: 741, box: [750, 246, 28, 27], lines: [
    { y: 290, node: <Iso iso="18" el="O" sub="calcite" />, kind: "title" }, { y: 313, node: "(‰ VPDB)", kind: "bold" }, { y: 333, node: "Grotte de Dongge" }, { y: 353, node: "Dykoski et al., 2005", kind: "ref" } ] },
  { letter: "G", side: "right", x: 744, box: [745, 488, 31, 28], lines: [
    { y: 530, node: "SSS (PSU)", kind: "bold" }, { y: 550, node: "Carotte SO93–126KL" }, { y: 569, node: "Kudrass et al., 2001", kind: "ref" } ] },
  { letter: "H", side: "left", x: 227, box: [196, 563, 30, 26], lines: [
    { y: 600, node: <Iso el="D" sub="n-alcanes" />, kind: "title" }, { y: 620, node: "(‰ VSMOW)", kind: "bold" }, { y: 642, node: "Site 342KL" }, { y: 662, node: "Contreras-Rosales et al., 2014", kind: "ref" } ] },
  { letter: "I", side: "right", x: 749, box: [748, 651, 21, 27], lines: [
    { y: 693, node: <Iso el="D" sub="n-alcanes" />, kind: "title" }, { y: 714, node: "(‰ VSMOW)", kind: "bold" }, { y: 737, node: "Carotte SO 188-17286-1" }, { y: 757, node: "Wang et al., 2022", kind: "ref" } ] },
  { letter: "J", side: "left", x: 228, box: [204, 754, 24, 28], lines: [
    { y: 790, node: <Iso el="D" sub="precip" />, kind: "title" }, { y: 811, node: "(‰ VSMOW)", kind: "bold" }, { y: 830, node: "Site IODP U1446" }, { y: 851, node: "McGrath et al., 2021", kind: "ref" } ] },
  { letter: "K", side: "right", x: 741, box: [743, 839, 30, 28], lines: [
    { y: 886, node: <Iso iso="18" el="O" sub="f. planctonique" />, kind: "title" }, { y: 908, node: "(‰ VSMOW)", kind: "bold" }, { y: 927, node: "Site IODP U1446" }, { y: 947, node: "Clemens et al., 2021", kind: "ref" } ] },
  { letter: "N", side: "left", x: 235, box: [204, 896, 31, 25], lines: [
    { y: 930, node: <Iso iso="13" el="C" sub="n-alcanes" />, kind: "title" }, { y: 951, node: "(‰ VPDB)", kind: "bold" }, { y: 971, node: "Carotte NGHP-01-16A" }, { y: 990, node: "Ponton et al., 2012", kind: "ref" } ] },
  { letter: "P", side: "right", x: 741, box: [743, 1023, 27, 27], lines: [
    { y: 1069, node: <Iso iso="18" el="O" sub="G.sacculifer" italic />, kind: "title" }, { y: 1091, node: "(‰ VPDB)", kind: "bold" }, { y: 1111, node: "Carotte SK 168/GC-1" }, { y: 1130, node: "Gebregiorgis et al., 2016", kind: "ref" } ] },
  { letter: "E", side: "left", x: 240, box: [212, 1177, 25, 27], lines: [
    { y: 1213, node: "Foram. planctoniques", kind: "bold" }, { y: 1233, node: "de mousson du SW (%)", kind: "bold" }, { y: 1253, node: "MD04-2861" }, { y: 1272, node: "Caley et al., 2011", kind: "ref" } ] },
  { letter: "F", side: "right", x: 744, box: [745, 1313, 25, 26], lines: [
    { y: 1353, node: "Reflectance L*", kind: "bold" }, { y: 1372, node: "Carotte SO130-289KL" }, { y: 1392, node: "Deplazes et al. 2013", kind: "ref" } ] },
  { letter: "L", side: "left", x: 240, box: [215, 1397, 24, 27], lines: [
    { y: 1434, node: "% G. Bulloides", kind: "bold" }, { y: 1454, node: "Site ODP 723A" }, { y: 1473, node: "Gupta et al., 2005", kind: "ref" } ] },
  { letter: "O", side: "right", x: 744, box: [745, 1534, 32, 27], lines: [
    { y: 1573, node: "Surface SST (Mg/Ca)", kind: "bold" }, { y: 1592, node: "Carotte P178-15P" }, { y: 1612, node: "Tierney et al., 2016", kind: "ref" } ] },
];

function Block({ b }: { b: BlockCfg }) {
  const left = b.side === "left";
  return (
    <>
      <div style={{ position: "absolute", left: b.box[0], top: b.box[1], width: b.box[2], height: b.box[3], background: "#c7d6f1", display: "flex", alignItems: "center", justifyContent: "center", fontWeight: 800, fontSize: 25, color: "#111" }}>
        {b.letter}
      </div>
      {b.lines.map((ln, i) => {
        const title = ln.kind === "title";
        const h = title ? 16 : 18;
        return (
          <div key={i} style={{ position: "absolute", top: ln.y - h / 2 - (title ? 2 : 0), height: h, ...(left ? { right: W - b.x } : { left: b.x }), whiteSpace: "nowrap", lineHeight: `${h}px`, fontSize: ln.kind === "bold" ? 16.5 : 16, fontWeight: ln.kind === "bold" ? 700 : 400, color: ln.kind === "ref" ? "#ababab" : "#161616" }}>
            {ln.node}
          </div>
        );
      })}
    </>
  );
}

const Frame = ({ x1, y1, x2, y2 }: { x1: number; y1: number; x2: number; y2: number }) => (
  <div style={{ position: "absolute", left: x1, top: y1, width: x2 - x1, height: y2 - y1, border: "2px solid #111", boxSizing: "border-box" }} />
);
const Tag = ({ right, top, h, text, size = 15 }: { right: number; top: number; h: number; text: string; size?: number }) => (
  <div style={{ position: "absolute", right: W - right, top, height: h, lineHeight: `${h}px`, padding: "0 5px 0 8px", background: "#000", color: "#fff", fontWeight: 700, fontSize: size, whiteSpace: "pre" }}>
    {text}
  </div>
);

const AgeTick = (props: any) => {
  const { x, y, payload } = props;
  const v = payload.value as number;
  const major = v % 2 === 0;
  return (
    <g>
      <line x1={x} y1={y} x2={x} y2={y + (major ? 8 : 4)} stroke={INK} strokeWidth={1.8} />
      {major && (
        <text x={x} y={y + 24} textAnchor="middle" fontSize={14} fontWeight={700} fill={INK} fontFamily={FONT}>
          {v}
        </text>
      )}
    </g>
  );
};

export default function App() {
  return (
    <div style={{ position: "absolute", left: 0, top: 0, width: W, height: H, background: "#fff", overflow: "hidden", fontFamily: FONT, color: INK }}>
      <Frame x1={281} y1={8} x2={707} y2={432} />
      <Frame x1={281} y1={436} x2={707} y2={1669} />
      <Frame x1={289} y1={466} x2={699} y2={1160} />
      <Frame x1={289} y1={1166} x2={699} y2={1662} />
      <Tag right={707} top={8} h={22} text="ENREGISTREMENTS CONTINENTAUX" />
      <Tag right={707} top={30} h={22} text="Spéléothèmes" />
      <Tag right={707} top={436} h={23} text="ENREGISTREMENTS  MARINS" />
      <Tag right={699} top={466} h={24} text="Golfe du Bengale" />
      <Tag right={699} top={1166} h={22} text="Mer d'Arabie" />

      {blocks.map((b) => (
        <Block key={b.letter} b={b} />
      ))}

      <LineChart width={W} height={H} margin={{ top: 0, right: W - PLOT_R - nRight, bottom: 0, left: PLOT_L - nLeft }} style={{ position: "absolute", left: 0, top: 0 }}>
        <XAxis dataKey="x" type="number" domain={[-1, 21]} allowDataOverflow hide />
        {axes.map((a) => {
          const s = scaleOf(a);
          return (
            <YAxis key={a.id} yAxisId={a.id} orientation={a.side} type="number" domain={s.domain} reversed={s.reversed} allowDataOverflow ticks={tickList(a)} interval={0} tick={makeTick(a)} tickLine={false} axisLine={false} tickSize={0} tickMargin={0} width={1} />
          );
        })}
        {axes.map((a) => {
          const xv = a.side === "left" ? -1 : 21;
          return (
            <ReferenceLine key={"ax" + a.id} yAxisId={a.id} segment={[{ x: xv, y: a.lo }, { x: xv, y: a.hi }]} stroke={INK} strokeWidth={2} ifOverflow="visible" />
          );
        })}

        {raw("A", "aRaw", sahiyaRaw)}
        {smooth("A", "aSm", sahiyaSmooth)}
        {arrow("A", "aAr", sahiyaArrow, BLUE)}

        {raw("B", "bRaw0", bittooRawEarly)}
        {smooth("B", "bSm0", bittooSmoothEarly)}
        {raw("B", "bRaw", bittooRaw)}
        {smooth("B", "bSm", bittooSmooth)}

        {raw("D", "dRaw", mawmluhRaw)}
        {smooth("D", "dSm", mawmluhSmooth)}
        {optimum("D", "dOpt", mawmluhOptimum)}

        {raw("C", "cRaw", donggeRaw)}
        {smooth("C", "cSm", donggeSmooth)}
        {optimum("C", "cOpt", donggeOptimum)}
        {arrow("C", "cArB", donggeArrowBlue, BLUE)}
        {arrow("C", "cArY", donggeArrowYellow, YELLOW)}

        {raw("M", "mRaw", qunfRaw)}
        {smooth("M", "mSm", qunfSmooth)}
        {optimum("M", "mOpt", qunfOptimum)}

        {dotted("G", "g", sss, 2.2)}
        {optimum("G", "gOpt", sssOptimum)}
        {arrow("G", "gAr", sssArrow, BLUE)}

        {dotted("H", "h", dD342)}
        {optimum("H", "hOpt", dD342Optimum)}
        {arrow("H", "hAr", dD342Arrow, BLUE)}

        {dotted("I", "i", dD17286)}
        {optimum("I", "iOpt", dD17286Optimum)}

        {dotted("J", "j", dDprecip)}

        {dotted("K", "k", d18Oplank)}
        {optimum("K", "kOpt", d18OplankOptimum)}

        {dotted("N", "n", d13C)}
        {optimum("N", "nOpt", d13COptimum)}
        {arrow("N", "nAr", d13CArrow, BLUE)}

        {dotted("P", "p", d18Osacc)}
        {optimum("P", "pOpt", d18OsaccOptimum)}

        {raw("E", "eRaw", foramRaw)}
        {smooth("E", "eSm", foramSmooth)}
        {arrow("E", "eAr", foramArrow, YELLOW)}

        {raw("F", "fRaw", reflRaw)}
        {smooth("F", "fSm", reflSmooth)}
        {optimum("F", "fOpt", reflOptimum)}
        {arrow("F", "fAr", reflArrow, BLUE)}

        {raw("L", "lRaw", bullRaw)}
        {smooth("L", "lSm", bullSmooth)}
        {arrow("L", "lArB", bullArrowBlue, BLUE)}
        {arrow("L", "lArY", bullArrowYellow, YELLOW)}

        {dotted("O", "o", sst)}
        {optimum("O", "oOpt", sstOptimum)}
        {arrow("O", "oAr", sstArrow, BLUE)}
      </LineChart>

      <LineChart width={W} height={66} margin={{ top: 0, right: 246, bottom: 0, left: 293 }} style={{ position: "absolute", left: 0, top: 1670 }}>
        <XAxis dataKey="x" type="number" domain={[0, 20]} allowDataOverflow ticks={ageTicks} interval={0} tick={AgeTick} tickLine={false} tickSize={0} tickMargin={0} axisLine={{ stroke: INK, strokeWidth: 2 }} height={52} />
        <YAxis hide type="number" domain={[0, 1]} />
        <Line data={[{ x: 0, y: 0 }, { x: 20, y: 0 }]} dataKey="y" stroke="none" dot={false} isAnimationActive={false} />
      </LineChart>
      <div style={{ position: "absolute", left: 0, width: 986, top: 1718, textAlign: "center", fontSize: 15, lineHeight: "18px", whiteSpace: "nowrap" }}>
        <b>Age</b> (Ka cal BP)
      </div>
    </div>
  );
}
